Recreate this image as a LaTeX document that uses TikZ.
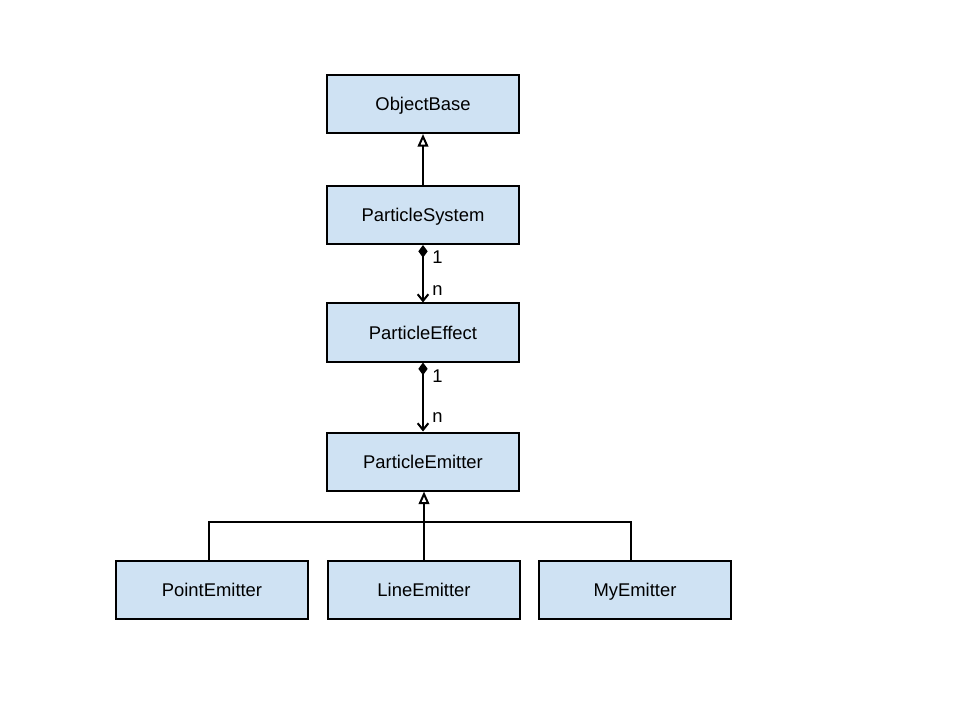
\documentclass[tikz,border=0pt]{standalone}
\usepackage{fontspec}
\setmainfont{Liberation Sans}
\usetikzlibrary{arrows.meta,calc}
\definecolor{boxblue}{RGB}{207,226,243}
\newcommand{\bw}{144pt}
\newcommand{\bh}{43.5pt}
\newcommand{\cnode}[3]{
  \node [cls] at #1 (#3) {#2};
}
\tikzset{
  cls/.style={draw,fill=boxblue,line width=1.5pt,minimum width=\bw,minimum height=\bh,
    font=\fontsize{13.8}{16}\selectfont,inner sep=0pt,text height=11pt,text depth=1pt},
  inh/.style={line width=1.5pt,-{Triangle[open,length=9.5pt,width=8pt]}},
  comp/.style={line width=1.5pt,{Diamond[length=9.5pt,width=7pt]}-{Straight Barb[length=5pt,width=8pt]}},
  lbl/.style={font=\fontsize{13.8}{16}\selectfont}
}

\begin{document}
\begin{tikzpicture}[x=0.75pt,y=-0.75pt]
  \useasboundingbox (0,0) rectangle (960,720);

  \cnode{(423,104)}{ObjectBase}{ob}
  \cnode{(423,215)}{ParticleSystem}{ps}
  \cnode{(423,332.5)}{ParticleEffect}{pf}
  \cnode{(423,461.5)}{ParticleEmitter}{pm}
  \cnode{(212,589.5)}{PointEmitter}{pt}
  \cnode{(424,589.5)}{LineEmitter}{ln}
  \cnode{(635,589.5)}{MyEmitter}{my}

  \draw [inh] (ps.north) -- (ob.south);
  \draw [comp] (ps.south) -- (pf.north)
    node [lbl,pos=0.22,right=3pt] (ps1) {1}
    node [lbl,pos=0.8,right=3pt] (psn) {n};
  \draw [comp] (pf.south) -- (pm.north)
    node [lbl,pos=0.2,right=3pt] (pf1) {1}
    node [lbl,pos=0.8,right=3pt] (pfn) {n};

  \draw [line width=1.5pt] ($(pt.north)+(-3,0)$) -- ++(0,-38) -| ($(my.north)+(-4,0)$);
  \draw [inh] (ln.north) -- (ln.north |- pm.south);
\end{tikzpicture}
\end{document}
